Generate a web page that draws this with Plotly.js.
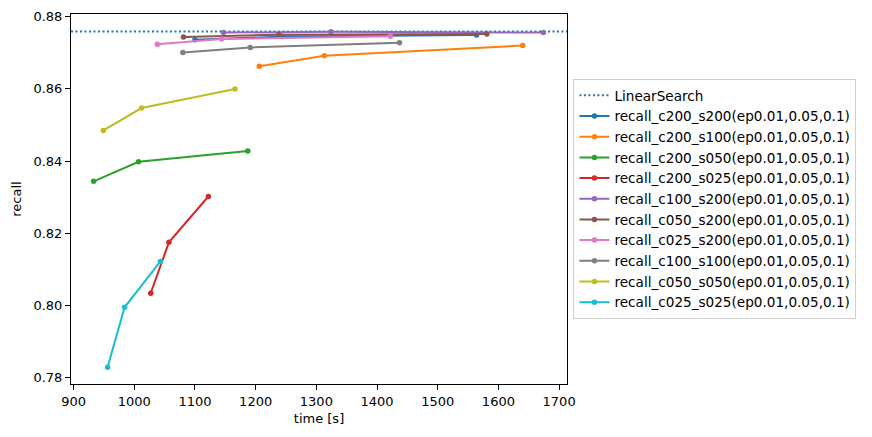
<!DOCTYPE html>
<html>
<head>
<meta charset="utf-8">
<script src="https://cdn.plot.ly/plotly-3.0.1.min.js"></script>
<style>
	html, body { margin: 0; padding: 0; background: #fff; }
	#chart { width: 872px; height: 437px; }
</style>
</head>
<body>
<div id="chart"></div>
<script>
// recall vs. time for each (c, s) setting, three ep values each (0.01, 0.05, 0.1)
const linearSearchRecall = 0.8759;
const xRange = [895.7, 1713];
const yRange = [0.77826, 0.88075];

const seriesNames = [
	"recall_c200_s200(ep0.01,0.05,0.1)",
	"recall_c200_s100(ep0.01,0.05,0.1)",
	"recall_c200_s050(ep0.01,0.05,0.1)",
	"recall_c200_s025(ep0.01,0.05,0.1)",
	"recall_c100_s200(ep0.01,0.05,0.1)",
	"recall_c050_s200(ep0.01,0.05,0.1)",
	"recall_c025_s200(ep0.01,0.05,0.1)",
	"recall_c100_s100(ep0.01,0.05,0.1)",
	"recall_c050_s050(ep0.01,0.05,0.1)",
	"recall_c025_s025(ep0.01,0.05,0.1)",
];

const seriesTimes = [
	[1100, 1245, 1564],
	[1206, 1313, 1640],
	[933, 1007, 1187],
	[1027, 1057, 1122],
	[1147, 1324, 1674],
	[1081, 1238, 1581],
	[1038, 1144, 1422],
	[1080, 1191, 1437],
	[949, 1012, 1166],
	[956, 984, 1043],
];

const seriesRecalls = [
	[0.8736, 0.8745, 0.8749],
	[0.8663, 0.8692, 0.8720],
	[0.8344, 0.8398, 0.8428],
	[0.8034, 0.8175, 0.8302],
	[0.8756, 0.8758, 0.8756],
	[0.8744, 0.8750, 0.8752],
	[0.8724, 0.8738, 0.8746],
	[0.8701, 0.8715, 0.8728],
	[0.8485, 0.8547, 0.8600],
	[0.7829, 0.7995, 0.8122],
];

const colors = [
	"#1f77b4", "#ff7f0e", "#2ca02c", "#d62728", "#9467bd",
	"#8c564b", "#e377c2", "#7f7f7f", "#bcbd22", "#17becf",
];

const font = { family: "DejaVu Sans", size: 13, color: "#000" };
const legendFont = { family: "DejaVu Sans", size: 13.6, color: "#000" };

const traces = [
	{
		name: "LinearSearch",
		x: xRange,
		y: [linearSearchRecall, linearSearchRecall],
		mode: "lines",
		line: { color: "#1f77b4", width: 2, dash: "2px,2.5px" },
		hoverinfo: "skip",
	},
];

seriesNames.forEach((name, i) => {
	traces.push({
		name: name,
		x: seriesTimes[i],
		y: seriesRecalls[i],
		mode: "lines+markers",
		line: { color: colors[i], width: 2 },
		marker: { color: colors[i], size: 5.5 },
	});
});

const axisStyle = {
	showline: true,
	linecolor: "#000",
	linewidth: 1,
	mirror: true,
	showgrid: false,
	zeroline: false,
	ticks: "outside",
	ticklen: 5,
	tickwidth: 1,
	tickcolor: "#000",
	tickfont: font,
};

const layout = {
	width: 872,
	height: 437,
	margin: { l: 71, r: 305, t: 14, b: 53 },
	paper_bgcolor: "#fff",
	plot_bgcolor: "#fff",
	font: font,
	showlegend: true,
	legend: {
		x: 1.013,
		xanchor: "left",
		y: 0.5,
		yanchor: "middle",
		bgcolor: "#fff",
		bordercolor: "#d0d0d0",
		borderwidth: 1,
		font: legendFont,
		tracegroupgap: 0,
	},
	xaxis: Object.assign({}, axisStyle, {
		range: xRange,
		tick0: 900,
		dtick: 100,
		title: { text: "time [s]", font: font, standoff: 6 },
	}),
	yaxis: Object.assign({}, axisStyle, {
		range: yRange,
		tick0: 0.78,
		dtick: 0.02,
		tickformat: ".2f",
		title: { text: "recall", font: font, standoff: 8 },
	}),
};

Plotly.newPlot("chart", traces, layout, { displayModeBar: false, staticPlot: true });
</script>
</body>
</html>
